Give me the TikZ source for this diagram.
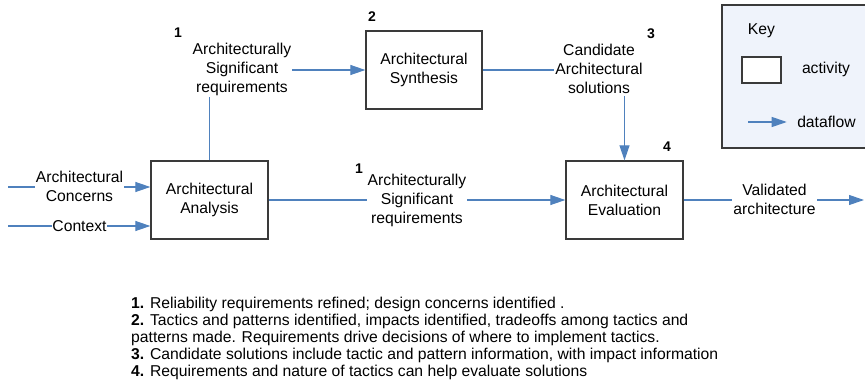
\documentclass[tikz,border=0pt]{standalone}
\usepackage{fontspec}
\setmainfont{Liberation Sans}
\usetikzlibrary{arrows.meta}
\definecolor{flow}{HTML}{4F81BD}
\definecolor{boxline}{HTML}{3A3A3A}
\definecolor{keyfill}{HTML}{EFF3FB}
\begin{document}
\begin{tikzpicture}[x=1pt,y=-1pt,
  every node/.style={font=\fontsize{15.7}{19}\selectfont},
  activity/.style={draw=boxline,line width=1.3pt,fill=white,minimum width=117pt,minimum height=78pt,align=center,inner sep=0pt},
  flowline/.style={draw=flow,line width=1.1pt,-{Triangle[length=15pt,width=10pt]}},
  lbl/.style={fill=white,align=center,inner xsep=1pt,inner ysep=2pt},
  num/.style={font=\fontsize{14}{16}\selectfont\bfseries,inner sep=0pt},
  note/.style={anchor=base west,inner sep=0pt}]
\useasboundingbox (0,0) rectangle (865,390);
% key
\begin{scope}
\clip (0,0) rectangle (865,390);
\draw[draw=boxline,line width=1.3pt,fill=keyfill] (722,5) rectangle (880,148);
\end{scope}
\node (keyt) at (761.5,31) {Key};
\node[draw=boxline,line width=1.2pt,fill=white,minimum width=39pt,minimum height=26pt,inner sep=0pt] (keybox) at (761.5,70) {};
\node (keyact) at (826,69) {activity};
\coordinate (ka) at (748,122);
\node (keydf) at (826.5,122) {dataflow};
\draw[flowline,shorten >=7pt] (ka) -- (keydf.west);
% activities
\node[activity] (ana) at (209.5,200) {Architectural\\Analysis};
\node[activity, minimum width=116pt] (syn) at (424,70) {Architectural\\Synthesis};
\node[activity] (eva) at (624.5,200) {Architectural\\Evaluation};
% inputs
\coordinate (in1) at (8,187);
\coordinate (in2) at (8,226);
\draw[flowline] (in1) -- (ana.west |- in1);
\draw[flowline] (in2) -- (ana.west |- in2);
\node[lbl] (lc) at (79.5,186) {Architectural\\Concerns};
\node[lbl,inner xsep=0.5pt,inner ysep=0pt] (lx) at (79.5,226) {Context};
% flows
\draw[flowline] (ana.north) |- (syn.west);
\node[lbl] (l1a) at (242,69) {Architecturally\\Significant\\requirements};
\draw[flowline] (syn.east) -| (eva.north);
\node[lbl] (l3) at (599,69) {Candidate\\Architectural\\solutions};
\draw[flowline] (ana.east) -- (eva.west);
\node[lbl] (l1b) at (417,200) {Architecturally\\Significant\\requirements};
\coordinate (out) at (864,200);
\draw[flowline] (eva.east) -- (out);
\node[lbl] (lv) at (774.5,199.5) {Validated\\architecture};
% numbers
\node[num] (n1a) at (178,33) {1};
\node[num] (n2) at (372,17) {2};
\node[num] (n3) at (651,34) {3};
\node[num] (n4) at (667,147) {4};
\node[num] (n1b) at (359,169) {1};
% notes
\node[note] (t1) at (131,308) {\textbf{1.} Reliability requirements refined; design concerns identified .};
\node[note] (t2) at (131,325.5) {\textbf{2.} Tactics and patterns identified, impacts identified, tradeoffs among tactics and};
\node[note] (t3) at (131,342.5) {patterns made. Requirements drive decisions of where to implement tactics.};
\node[note] (t4) at (131,359.5) {\textbf{3.} Candidate solutions include tactic and pattern information, with impact information};
\node[note] (t5) at (131,376.5) {\textbf{4.} Requirements and nature of tactics can help evaluate solutions};
\end{tikzpicture}
\end{document}
